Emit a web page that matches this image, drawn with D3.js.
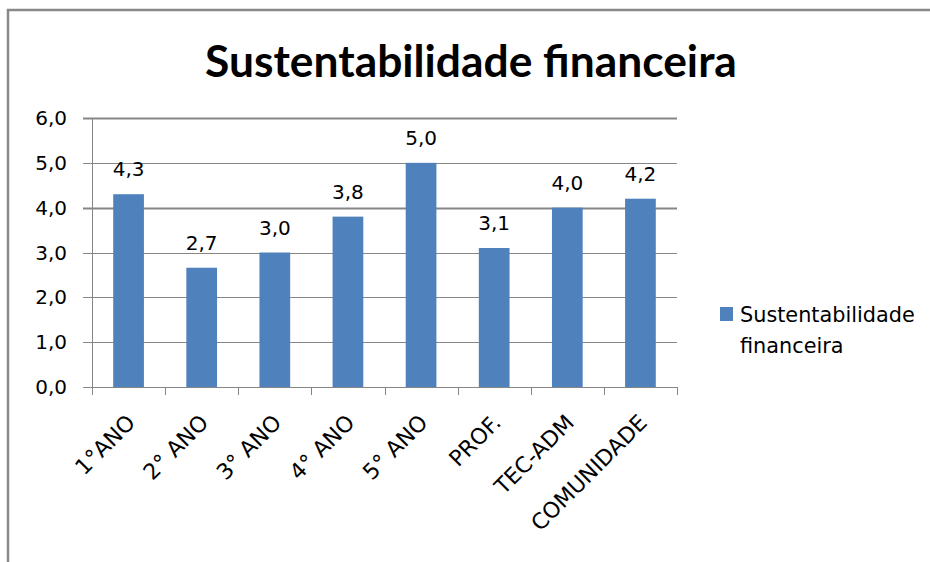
<!DOCTYPE html>
<html>
<head>
<meta charset="utf-8">
<script src="https://cdn.jsdelivr.net/npm/d3@7"></script>
<style>
  body { margin: 0; background: #fff; }
  svg text { font-family: "DejaVu Sans", Verdana, sans-serif; fill: #000; }
  svg text.titulo { font-family: Lato, "Open Sans", sans-serif; font-weight: bold; }
</style>
</head>
<body>
<div id="chart"></div>
<script>
// Dados do gráfico
const categorias = ['1°ANO', '2° ANO', '3° ANO', '4° ANO', '5° ANO', 'PROF.', 'TEC-ADM', 'COMUNIDADE'];
const valores = [4.3, 2.66, 3.0, 3.8, 5.0, 3.1, 4.0, 4.2];
const ticksY = [0, 1, 2, 3, 4, 5, 6];
const serie = ['Sustentabilidade', 'financeira'];
const titulo = 'Sustentabilidade financeira';

const width = 930, height = 562;
const cor = '#4F81BD', cinza = '#868686';

const svg = d3.select('#chart').append('svg')
    .attr('width', width)
    .attr('height', height);

// Moldura do gráfico (cortada à direita e em baixo)
svg.append('rect')
    .attr('x', 8).attr('y', 10)
    .attr('width', 960).attr('height', 600)
    .attr('fill', 'none')
    .attr('stroke', '#898989')
    .attr('stroke-width', 2.5);

// Título
const t = svg.append('text')
    .attr('class', 'titulo')
    .attr('x', 471).attr('y', 77)
    .attr('text-anchor', 'middle')
    .attr('font-size', 40)
    .text(titulo);
// Ajusta o tamanho do título para a largura da referência
const w = t.node().getComputedTextLength();
t.attr('font-size', 40 * 532 / w);

// Escalas
const x = d3.scaleBand().domain(categorias).range([92, 677]);
const xBar = d3.scaleBand().domain(categorias).range([92, 677])
    .paddingInner(0.58).paddingOuter(0.29);
const y = d3.scaleLinear().domain([0, 6]).range([387, 118]);

// Linhas de grade
svg.append('g')
    .selectAll('line')
    .data(ticksY)
    .enter().append('line')
    .attr('x1', 83).attr('x2', 677)
    .attr('y1', d => Math.round(y(d)) + 0.5)
    .attr('y2', d => Math.round(y(d)) + 0.5)
    .attr('stroke', cinza)
    .attr('stroke-width', d => d === 6 || d === 4 ? 2 : 1);

// Eixo Y
svg.append('line')
    .attr('x1', 92.5).attr('x2', 92.5)
    .attr('y1', 118).attr('y2', 388)
    .attr('stroke', cinza);

svg.append('g')
    .selectAll('text')
    .data(ticksY)
    .enter().append('text')
    .attr('x', 67)
    .attr('y', d => y(d) + 7)
    .attr('text-anchor', 'end')
    .attr('font-size', 20)
    .text(d => d.toFixed(1).replace('.', ','));

// Marcas do eixo X
svg.append('g')
    .selectAll('line')
    .data(d3.range(categorias.length + 1))
    .enter().append('line')
    .attr('x1', i => Math.round(92 + i * x.step()) + 0.5)
    .attr('x2', i => Math.round(92 + i * x.step()) + 0.5)
    .attr('y1', 387).attr('y2', 395)
    .attr('stroke', cinza);

// Barras
svg.append('g')
    .selectAll('rect')
    .data(valores)
    .enter().append('rect')
    .attr('x', (d, i) => xBar(categorias[i]))
    .attr('y', d => y(d))
    .attr('width', xBar.bandwidth())
    .attr('height', d => y(0) - y(d))
    .attr('fill', cor);

// Rótulos de dados
svg.append('g')
    .selectAll('text')
    .data(valores)
    .enter().append('text')
    .attr('x', (d, i) => x(categorias[i]) + x.bandwidth() / 2)
    .attr('y', d => y(d) - 18)
    .attr('text-anchor', 'middle')
    .attr('font-size', 20)
    .text(d => d.toFixed(1).replace('.', ','));

// Rótulos das categorias (rodados)
svg.append('g')
    .selectAll('text')
    .data(categorias)
    .enter().append('text')
    .attr('text-anchor', 'end')
    .attr('font-size', 22)
    .attr('transform', d => `translate(${x(d) + x.bandwidth() / 2 + 8},${424}) rotate(-45)`)
    .text(d => d);

// Legenda
svg.append('rect')
    .attr('x', 720).attr('y', 307)
    .attr('width', 13).attr('height', 14)
    .attr('fill', cor);
svg.append('g')
    .selectAll('text')
    .data(serie)
    .enter().append('text')
    .attr('x', 740)
    .attr('y', (d, i) => 322 + i * 31)
    .attr('font-size', 20.8)
    .text(d => d);
</script>
</body>
</html>
